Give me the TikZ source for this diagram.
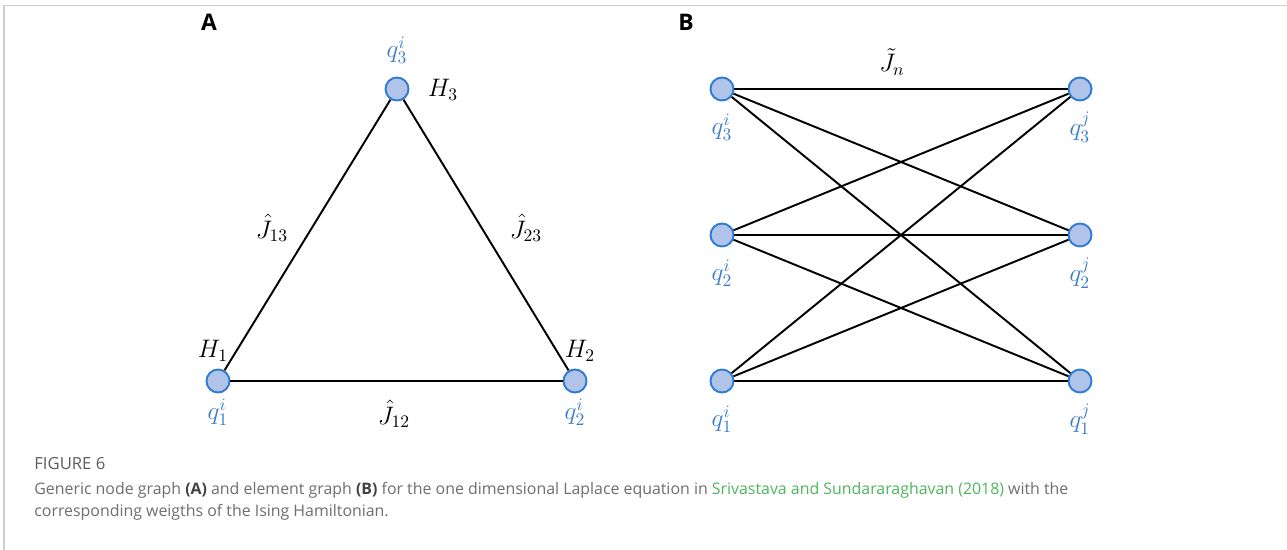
\documentclass[tikz,border=0pt]{standalone}
\usepackage{amsmath,amssymb}
\usepackage{fontspec}
\setsansfont{Open Sans}
\usepackage{tikz}
\usetikzlibrary{positioning,calc}
\definecolor{qfill}{HTML}{AFC4E8}
\definecolor{qdraw}{HTML}{2F7BD3}
\definecolor{qtext}{HTML}{3A7CC9}
\definecolor{captext}{HTML}{6E6E6E}
\definecolor{citegreen}{HTML}{4DB65A}
\definecolor{framegray}{HTML}{CFCFCF}

\begin{document}
\begin{tikzpicture}[x=0.02cm, y=-0.02cm,
  qnode/.style={circle, draw=qdraw, fill=qfill, line width=1.1pt, minimum size=0.46cm, inner sep=0pt},
  qlab/.style={text=qtext, font=\fontsize{14}{16}\selectfont},
  wlab/.style={font=\fontsize{14}{16}\selectfont},
  edge/.style={line width=1.1pt, black},
  panel/.style={font=\sffamily\bfseries\fontsize{13}{15}\selectfont}]
  \useasboundingbox (0,0) rectangle (1287,550);
  \draw[framegray, line width=1pt] (4,550) -- (4,5.5) -- (1287,5.5);

  % Panel A: node graph
  \node[panel] (pa) at (209,22) {A};
  \node[qnode] (a3) at (397,89) {};
  \node[qnode] (a1) at (218,381) {};
  \node[qnode] (a2) at (575,381) {};
  \draw[edge] (a1) -- (a3);
  \draw[edge] (a2) -- (a3);
  \draw[edge] (a1) -- (a2);
  \node[qlab] (la3) at (397,50) {$q_3^i$};
  \node[qlab] (la1) at (218,412) {$q_1^i$};
  \node[qlab] (la2) at (575,412) {$q_2^i$};
  \node[wlab] (h3) at (443,90) {$H_3$};
  \node[wlab] (h1) at (213,351) {$H_1$};
  \node[wlab] (h2) at (580,351) {$H_2$};
  \node[wlab] (j13) at (272,228) {$\hat{J}_{13}$};
  \node[wlab] (j23) at (526,228) {$\hat{J}_{23}$};
  \node[wlab] (j12) at (394,414) {$\hat{J}_{12}$};

  % Panel B: element graph
  \node[panel] (pb) at (686,22) {B};
  \foreach \k/\yy in {1/381, 2/235, 3/89} {
    \node[qnode] (bl\k) at (722,\yy) {};
    \node[qnode] (br\k) at (1080,\yy) {};
    \node[qlab] (lbl\k) at (722,\yy+38) {$q_\k^i$};
    \node[qlab] (lbr\k) at (1080,\yy+38) {$q_\k^j$};
  }
  \foreach \a in {1,2,3}
    \foreach \b in {1,2,3}
      \draw[edge] (bl\a) -- (br\b);
  \node[wlab] (jn) at (892,62) {$\tilde{J}_n$};

  % Caption
  \node[anchor=west, inner sep=0pt, text=captext!85!black, font=\sffamily\fontsize{9.5}{11}\selectfont] (fig) at (34,464) {FIGURE 6};
  \node[anchor=west, inner sep=0pt, text=captext, font=\sffamily\fontsize{9.05}{11}\selectfont] (cap1) at (34,490)
    {Generic node graph \textcolor{captext!60!black}{\textbf{(A)}} and element graph \textcolor{captext!60!black}{\textbf{(B)}} for the one dimensional Laplace equation in \textcolor{citegreen}{Srivastava and Sundararaghavan (2018)} with the};
  \node[anchor=west, inner sep=0pt, text=captext, font=\sffamily\fontsize{9.05}{11}\selectfont] (cap2) at (34,512)
    {corresponding weigths of the Ising Hamiltonian.};
\end{tikzpicture}
\end{document}
